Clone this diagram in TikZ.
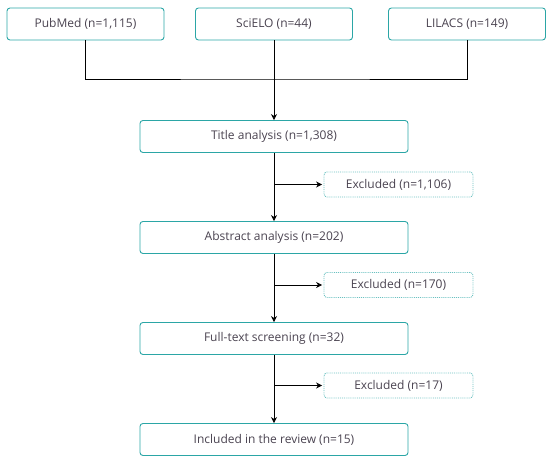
\documentclass[tikz,border=0pt]{standalone}
\usepackage{fontspec}
\setmainfont{Open Sans}
\usepackage{tikz}
\usetikzlibrary{arrows.meta, positioning, calc}
\usepackage{xcolor}
\definecolor{caja}{HTML}{2BA6A6}
\definecolor{texto}{HTML}{4A4350}

\begin{document}
\begin{tikzpicture}[x=1pt, y=1pt, font=\fontsize{12}{14}\selectfont,
	fuente/.style={draw=caja, rounded corners=3pt, line width=0.9pt, text=texto,
		minimum width=157pt, minimum height=32pt, inner sep=0pt},
	etapa/.style={fuente, minimum width=268pt},
	excluido/.style={draw=caja!70, densely dotted, rounded corners=3pt, line width=0.9pt,
		text=texto, minimum width=149pt, minimum height=25pt, inner sep=0pt},
	flecha/.style={-{Stealth[length=6pt, width=6pt]}, line width=0.8pt}]
	\useasboundingbox (0,0) rectangle (550,462);

	% Bases de datos
	\node[fuente] (pubmed) at (85.5,438) {PubMed (n=1,115)};
	\node[fuente] (scielo) at (274,438) {SciELO (n=44)};
	\node[fuente] (lilacs) at (467,438) {LILACS (n=149)};

	% Etapas
	\node[etapa] (titulo) at (274,325.5) {Title analysis (n=1,308)};
	\node[etapa] (resumen) at (274,224.5) {Abstract analysis (n=202)};
	\node[etapa] (texto) at (274,123.5) {Full-text screening (n=32)};
	\node[etapa] (incluidos) at (274,22.5) {Included in the review (n=15)};

	% Excluidos
	\node[excluido] (exc1) at (398.5,277.5) {Excluded (n=1,106)};
	\node[excluido] (exc2) at (398.5,177) {Excluded (n=170)};
	\node[excluido] (exc3) at (398.5,76.5) {Excluded (n=17)};

	% Union
	\coordinate (union) at (274,383);
	\draw[line width=0.8pt] (pubmed.south) |- (union) -| (lilacs.south);
	\draw[line width=0.8pt] (scielo.south) -- (union);
	\draw[flecha] (union) -- (titulo.north);

	% Flujo principal
	\draw[flecha] (titulo) -- (resumen);
	\draw[flecha] (resumen) -- (texto);
	\draw[flecha] (texto) -- (incluidos);

	% Flechas laterales
	\draw[flecha] (exc1.west -| titulo.south) -- ($(exc1.west)+(-1.5,0)$);
	\draw[flecha] (exc2.west -| resumen.south) -- ($(exc2.west)+(-1.5,0)$);
	\draw[flecha] (exc3.west -| texto.south) -- ($(exc3.west)+(-1.5,0)$);
\end{tikzpicture}
\end{document}
